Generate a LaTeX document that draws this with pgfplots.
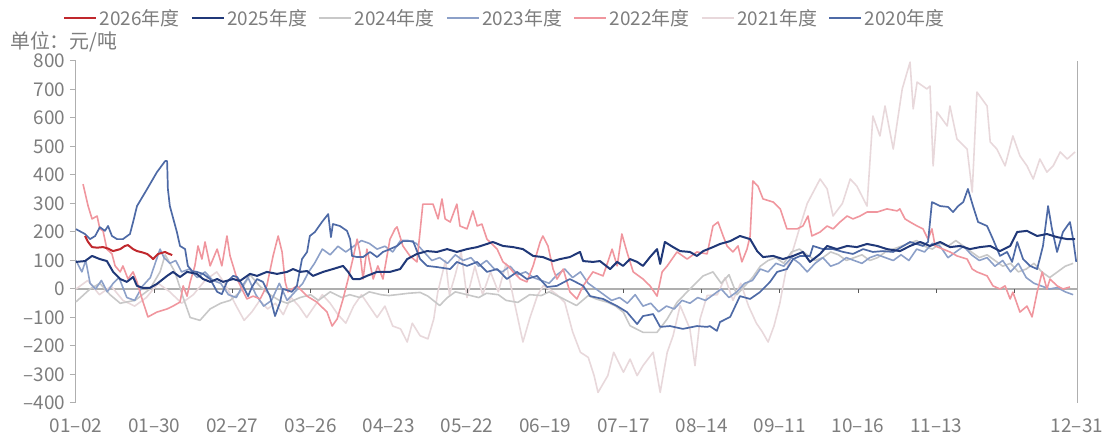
\documentclass[border=0pt]{standalone}
\usepackage{fontspec}
\setmainfont{Noto Sans CJK SC}
\usepackage{pgfplots}
\pgfplotsset{compat=1.18}

\definecolor{c26}{RGB}{192,40,45}
\definecolor{c25}{RGB}{32,56,120}
\definecolor{c24}{RGB}{200,200,200}
\definecolor{c23}{RGB}{140,160,200}
\definecolor{c22}{RGB}{240,150,158}
\definecolor{c21}{RGB}{232,216,219}
\definecolor{c20}{RGB}{78,106,166}
\definecolor{axisgray}{RGB}{175,175,175}
\definecolor{labelgray}{RGB}{125,125,125}

\begin{document}
\begin{tikzpicture}
\path[use as bounding box] (-76bp,-33bp) rectangle (1029bp,403bp);
\begin{axis}[
    scale only axis,
    width=1001bp, height=342bp,
    xmin=0, xmax=256, ymin=-400, ymax=800,
    axis x line*=bottom, axis y line*=left,
    x axis line style={draw=none},
    y axis line style={axisgray, line width=1bp},
    xtick={0,20,...,240,256},
    xticklabels={01\textendash02,01\textendash30,02\textendash27,03\textendash26,04\textendash23,05\textendash22,06\textendash19,07\textendash17,08\textendash14,09\textendash11,10\textendash16,11\textendash13,,12\textendash31},
    major x tick style={draw=none},
    ytick={-400,-300,...,800},
    yticklabels={\textendash400,\textendash300,\textendash200,\textendash100,0,100,200,300,400,500,600,700,800},
    major y tick style={axisgray, line width=1bp},
    tick align=outside, major tick length=6bp,
    tick label style={font=\fontsize{19}{22}\selectfont, text=labelgray},
    xticklabel style={anchor=base, yshift=-24bp},
    yticklabel style={xshift=-1bp},
    extra y ticks={0}, extra y tick labels={},
    extra y tick style={grid=major, major grid style={axisgray, line width=1.2bp}, major tick length=0pt},
    legend columns=-1,
    legend style={at={(axis description cs:-0.013,1.126)}, anchor=west, draw=none, fill=none,
        inner sep=0pt, font=\fontsize{19}{22}\selectfont, text=labelgray,
        /tikz/every even column/.append style={column sep=9bp}},
    legend image code/.code={\draw[#1] (0bp,0bp) -- (32bp,0bp);},
    clip=false,
    every axis plot/.append style={line join=round},
]
\addlegendimage{c26, line width=2.6bp}\addlegendentry{2026年度}
\addlegendimage{c25, line width=2.6bp}\addlegendentry{2025年度}
\addlegendimage{c24, line width=2.6bp}\addlegendentry{2024年度}
\addlegendimage{c23, line width=2.6bp}\addlegendentry{2023年度}
\addlegendimage{c22, line width=2.6bp}\addlegendentry{2022年度}
\addlegendimage{c21, line width=2.6bp}\addlegendentry{2021年度}
\addlegendimage{c20, line width=2.6bp}\addlegendentry{2020年度}

% 2021
\addplot[c21, line width=1.6bp, forget plot] coordinates {
(0,0)(3,30)(6,-20)(9,10)(12,-40)(15,-60)(18,-30)(21,20)(24,-10)(27,-50)(30,-20)(33,30)(36,60)(38,20)(41,-60)(43,-110)(45,-80)(47,-40)(49,-70)(51,-50)(53,-90)(55,-30)(57,-60)(59,-100)(61,-60)(63,-20)(65,-50)(67,-90)(69,-120)(71,-60)(73,-20)(75,-60)(77,-100)(79,-60)(81,-130)(83,-140)(84.7,-186)(86,-120)(88,-164)(90,-175)(91.5,-105)(92.5,-12)(94.5,100)(95.5,-20)(97,50)(98.5,130)(100,-30)(102,80)(104,-20)(106,60)(108,-10)(110,90)(112,-40)(114.3,-186)(116,-105)(118,-23)(119.5,12)(121,0)(123,-20)(125,-47)(127,-150)(129,-222)(131,-240)(132.5,-304)(133.5,-363)(136,-304)(137.5,-222)(140,-292)(141.7,-246)(143.5,-304)(145,-269)(147.6,-222)(149.4,-363)(151.2,-222)(152.7,-164)(154.5,-58)(157,-140)(158.3,-269)(159.6,-105)(161.4,-23)(164,-20)(166,40)(168,-40)(170,20)(172,-60)(174,-120)(175.5,-150)(177,-186)(178.5,-130)(180,-50)(181.5,60)(183,120)(185.2,221)(187,300)(190.3,386)(192.1,351)(193.6,256)(196,300)(198,386)(199.7,361)(202.3,291)(203.8,607)(205.6,537)(206.9,642)(209,491)(211.3,702)(213.3,796)(214.1,632)(215.1,726)(217.6,702)(218.4,712)(219.2,432)(220.2,621)(222.8,572)(223.5,642)(225.3,526)(227.9,491)(229.2,340)(230.4,691)(233,642)(233.8,516)(235.5,491)(237.6,432)(239.6,537)(241.4,467)(243.2,432)(244.8,386)(246.5,456)(248.3,410)(249.9,432)(251.7,481)(253.5,456)(255.5,481)
};
% 2024
\addplot[c24, line width=1.6bp, forget plot] coordinates {
(0,-45)(3.6,0)(6.1,20)(8.7,-20)(11.3,-50)(15.1,-40)(18.9,0)(21.5,60)(22.8,120)(25.3,60)(27.4,-30)(29.2,-100)(31.7,-110)(34.3,-70)(37,-50)(39.4,-40)(42,-10)(44.5,50)(47,10)(49.6,-20)(52,-40)(54,-50)(57.3,-30)(60,-20)(62,-40)(65,-10)(68,-30)(70,-20)(72.6,-30)(75,-10)(78,-20)(80,-23)(82,-20)(85,-15)(88,-12)(90,-25)(93,-58)(95,-30)(97,-10)(100,-20)(103,-30)(105,-15)(108,-20)(110,-40)(113,-47)(116,-20)(119,-23)(121,-10)(124,-30)(128,-58)(131,-23)(133,-35)(136,-47)(138,-60)(140,-82)(141.7,-129)(145,-152)(148.6,-152)(151.2,-105)(153.7,-47)(157,0)(160.4,46)(162.9,60)(165,20)(167,50)(169,-20)(171,10)(173,40)(175,80)(177,100)(179,110)(181,90)(183,130)(185,140)(187,120)(189,100)(191,110)(193,130)(195,120)(197,100)(199,110)(201,120)(203,100)(205,110)(207,130)(209,140)(211,150)(213,160)(215,170)(217,150)(219,140)(221,160)(223,150)(225,170)(227,150)(229,130)(231,110)(233,120)(235,100)(237,80)(239,90)(241,60)(243,70)(245,90)(247,60)(249,40)(251,60)(253,80)(255,90)
};
% 2023
\addplot[c23, line width=1.6bp, forget plot] coordinates {
(0,100)(1.5,60)(2.5,100)(3.6,20)(5,0)(6.5,30)(8,-10)(9.5,20)(11,40)(13,-30)(15,-40)(17,10)(19,40)(20.5,100)(21.5,140)(22.5,110)(24,90)(25.5,100)(27,60)(29,70)(31,40)(33,60)(35,30)(37,20)(39,-20)(41,-30)(42.5,10)(44,40)(46,-20)(48,-60)(50,-40)(52,20)(54,-40)(56,-10)(58,20)(59.5,60)(61,90)(63,140)(65,120)(67,150)(69,130)(71,150)(73,170)(75,160)(77,140)(79,150)(81,130)(83,170)(85,170)(87,160)(89,130)(91,100)(93,110)(95,90)(97,120)(99,100)(101,110)(103,80)(105,100)(107,70)(109,60)(111,80)(113,50)(115,60)(117,40)(119,30)(121,20)(123,50)(125,70)(127,40)(129,60)(131,20)(133,0)(135,-20)(137,-40)(139,-30)(141,-50)(143,-20)(145,-60)(147,-50)(149,-80)(151,-60)(153,-70)(155,-40)(157,-50)(159,-30)(161,-40)(163,-20)(165,0)(167,-30)(169,-10)(171,20)(173,30)(175,70)(177,60)(179,90)(181,80)(183,110)(185,90)(187,60)(189,90)(191,110)(193,80)(195,90)(197,110)(199,100)(201,90)(203,110)(205,120)(207,110)(209,100)(211,120)(213,100)(215,140)(217,130)(219,160)(221,150)(223,110)(225,130)(227,150)(229,120)(231,100)(233,110)(235,80)(237,100)(239,60)(241,90)(243,40)(245,20)(247,10)(249,0)(251,5)(253,-10)(255,-20)
};
% 2022
\addplot[c22, line width=1.6bp, forget plot] coordinates {
(1.8,368)(3.1,291)(4.1,246)(5.4,256)(6.1,211)(6.9,205)(7.9,140)(9.2,123)(10.0,81)(11.3,60)(12.0,81)(13.3,35)(14.6,60)(15.6,25)(16.9,-35)(18.4,-98)(20.7,-81)(23.3,-70)(24.8,-60)(26.6,-46)(27.4,11)(28.4,-25)(29.2,25)(30.4,81)(31.2,151)(32.2,105)(33.0,165)(34.3,81)(36.1,140)(37.3,81)(38.6,186)(39.4,116)(41.2,35)(43.7,-35)(45.3,-25)(47.1,-35)(48.8,11)(50.4,116)(51.7,186)(52.7,130)(53.5,25)(54.2,-10)(56.5,11)(59.1,-25)(61.6,-46)(64.2,-81)(65.5,-130)(66.8,-105)(68.3,-35)(69.6,35)(70.8,105)(71.9,175)(72.6,130)(73.4,35)(74.4,140)(76.0,35)(77.2,81)(78.5,35)(80.3,175)(81.6,211)(82.1,218)(83.6,151)(85.4,116)(87.2,95)(88.7,298)(91.3,298)(92.6,246)(93.6,316)(94.4,246)(95.7,235)(97.4,298)(98.2,221)(100.0,211)(101.5,274)(102.6,221)(103.8,228)(105.1,175)(107.7,140)(109.2,95)(110.5,81)(111.8,60)(113.6,35)(115.3,25)(116.9,81)(118.7,165)(119.4,186)(120.7,151)(122.0,70)(123.0,35)(124.6,70)(126.3,-10)(128.1,-35)(129.7,11)(132.2,60)(134.8,46)(137.1,140)(138.4,81)(139.6,193)(140.9,130)(142.5,60)(145.0,35)(146.8,11)(148.6,-25)(149.9,60)(151.2,81)(153.7,130)(156.3,105)(158.8,130)(161.4,123)(162.9,221)(164.2,235)(165.5,186)(166.5,151)(168.0,130)(169.3,151)(170.3,95)(171.6,140)(172.4,186)(173.1,379)(174.4,361)(175.7,316)(178.3,305)(180.1,281)(181.8,211)(184.4,211)(185.9,221)(187.2,256)(188.2,186)(190.3,200)(192.1,221)(193.6,211)(195.4,235)(197.2,256)(198.7,246)(200.5,256)(202.3,270)(204.9,270)(207.4,281)(210.0,274)(210.7,281)(212.0,246)(213.3,235)(215.1,221)(216.6,211)(217.9,175)(218.9,211)(219.7,151)(221.7,140)(223.5,130)(225.3,116)(227.9,105)(229.2,70)(230.4,60)(233.0,46)(234.5,11)(236.3,0)(237.6,11)(238.9,-35)(239.6,-11)(241.4,-81)(243.2,-60)(244.5,-98)(245.8,-11)(247.1,60)(248.3,0)(249.1,35)(250.9,11)(252.4,0)(254.2,7)
};
% 2020
\addplot[c20, line width=1.7bp, forget plot] coordinates {
(0,210)(2.3,193)(3.6,175)(4.9,186)(6.1,217)(7.4,204)(8.2,221)(9.2,186)(10.5,175)(12.0,175)(13.8,193)(14.6,235)(15.6,291)(18.2,351)(20.7,410)(22.8,449)(23.3,449)(23.5,351)(24.0,291)(25.8,200)(26.6,151)(27.9,140)(28.6,81)(29.7,63)(30.9,60)(32.5,53)(34.3,35)(36.1,-10)(37.3,-18)(38.6,25)(40.2,46)(41.2,42)(42.7,11)(44.0,-25)(45.0,7)(46.3,35)(47.8,25)(49.6,-25)(50.9,-95)(52.2,-46)(52.9,0)(54.2,-5)(55.2,-10)(56.5,11)(57.8,105)(59.1,130)(59.8,186)(61.1,200)(62.9,235)(64.5,263)(65.2,182)(65.7,228)(67.5,221)(69.3,204)(70.1,175)(70.6,116)(71.9,112)(73.4,112)(75.2,130)(77.0,112)(78.5,130)(80.3,140)(82.1,151)(83.6,168)(86.2,168)(88.0,105)(89.8,81)(92.3,77)(95.7,70)(97.4,95)(100.0,81)(102.6,95)(105.1,60)(107.7,70)(110.2,35)(112.8,60)(115.3,35)(117.9,46)(120.5,7)(123.0,11)(126.3,35)(129.7,11)(131.5,-25)(134.8,-35)(138.4,-60)(140.9,-81)(143.5,-123)(145.0,-95)(147.6,-88)(149.4,-133)(151.9,-130)(155.2,-140)(158.8,-130)(161.4,-133)(162.1,-130)(163.9,-147)(164.7,-116)(167.3,-98)(169.8,-25)(172.4,-35)(174.9,-11)(177.5,25)(179.3,60)(181.8,70)(183.4,105)(185.2,116)(187.7,116)(188.5,151)(191.0,140)(193.6,140)(196.2,130)(198.7,123)(201.3,140)(203.8,130)(206.4,133)(209.0,130)(213.3,165)(216.6,151)(217.9,165)(218.9,305)(221.0,291)(223.0,288)(224.3,270)(225.6,291)(226.9,305)(228.1,351)(229.4,291)(230.7,235)(233.0,221)(234.5,175)(236.3,116)(238.1,130)(239.4,95)(240.7,165)(242.2,105)(244.0,81)(245.8,70)(247.3,151)(248.6,291)(249.6,210)(250.9,130)(252.4,200)(254.2,235)(255.0,175)(255.8,95)
};
% 2025
\addplot[c25, line width=2bp, forget plot] coordinates {
(0,95)(2.3,98)(4.1,116)(6.1,105)(7.9,98)(9.5,60)(11.3,35)(13.0,25)(14.6,42)(15.6,11)(17.1,4)(18.9,4)(20.7,18)(23.3,46)(24.8,60)(26.6,42)(28.4,60)(30.9,53)(32.5,35)(34.3,25)(36.1,35)(37.6,25)(40.2,35)(41.9,28)(44.5,53)(46.3,46)(48.8,60)(51.4,53)(54.0,60)(55.5,70)(57.3,60)(59.1,63)(60.6,46)(63.2,60)(65.7,70)(68.3,81)(69.6,60)(70.8,35)(72.6,35)(74.4,46)(77.0,60)(80.3,60)(82.9,70)(84.7,105)(87.2,123)(89.8,133)(92.3,130)(94.9,140)(97.4,130)(100.0,140)(102.6,147)(105.1,158)(106.6,165)(109.2,151)(111.8,147)(114.3,140)(116.9,116)(119.4,112)(122.0,98)(123.8,105)(126.3,112)(128.9,130)(129.7,98)(132.2,95)(134.0,98)(136.6,70)(138.4,95)(139.9,81)(141.7,105)(143.5,95)(145.0,81)(146.8,112)(148.6,140)(149.4,88)(150.6,165)(152.7,147)(154.5,133)(157.0,130)(158.8,116)(160.4,133)(162.9,147)(164.7,158)(167.3,168)(169.8,186)(172.4,175)(174.2,133)(175.7,112)(178.3,116)(180.8,105)(183.4,116)(185.9,130)(187.7,95)(190.3,123)(192.1,151)(194.6,140)(197.2,151)(199.7,147)(202.3,158)(204.9,151)(207.4,140)(210.7,133)(213.3,151)(215.9,165)(218.4,151)(221.0,165)(223.5,147)(226.1,151)(228.6,140)(231.2,147)(233.8,151)(236.3,133)(238.9,151)(240.7,200)(243.2,204)(245.8,186)(248.3,193)(250.9,182)(253.5,175)(255.5,175)
};
% 2026
\addplot[c26, line width=2bp, forget plot] coordinates {
(2.3,186)(3.1,165)(4.1,147)(5.4,145)(6.9,147)(8.2,142)(9.5,133)(11.3,140)(12.5,151)(13.3,154)(14.6,140)(15.6,133)(17.1,128)(18.2,123)(19.2,112)(19.7,105)(21.0,123)(22.8,130)(23.5,125)(24.6,119)
};

\draw[axisgray, line width=1bp] (rel axis cs:1,0) -- (rel axis cs:1,1);
\pgfplotsinvokeforeach{20,40,...,240}{
  \draw[black!65, line width=0.8bp] (axis cs:#1,0) -- ++(0bp,-4bp);
}
\node[anchor=west, inner sep=0pt, font=\fontsize{20}{22}\selectfont, text=labelgray]
  at (axis description cs:-0.066,1.056) {单位：元/吨};
\end{axis}
\end{tikzpicture}
\end{document}
